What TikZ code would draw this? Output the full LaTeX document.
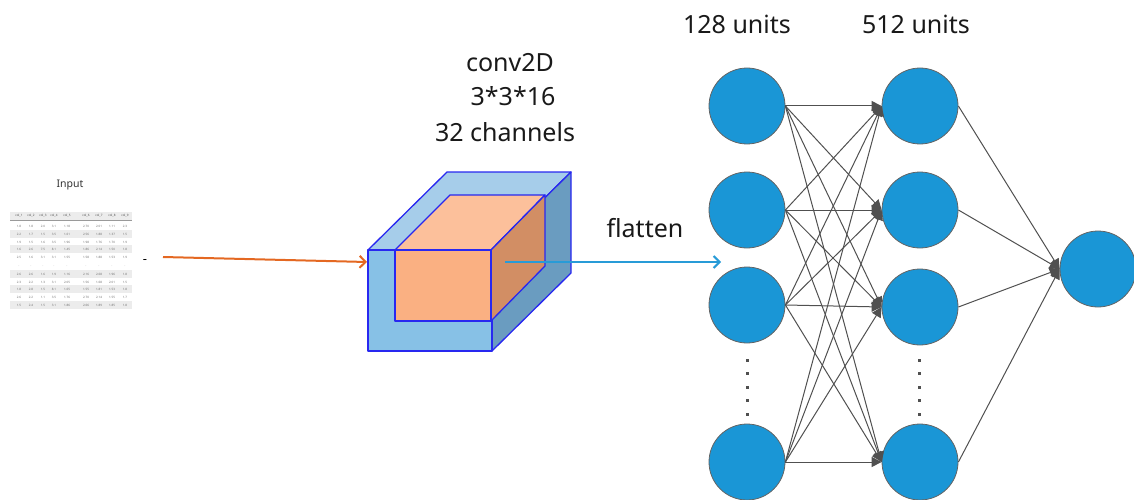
\documentclass[tikz,border=0pt]{standalone}
\usepackage{fontspec}
\setmainfont{Noto Sans}
\usetikzlibrary{arrows.meta}
\definecolor{nodeblue}{RGB}{26,150,214}
\definecolor{nodeborder}{RGB}{100,100,100}
\definecolor{edgegray}{RGB}{80,80,80}
\definecolor{cubeedge}{RGB}{40,40,240}
\definecolor{outerfront}{RGB}{135,193,230}
\definecolor{outertop}{RGB}{166,205,234}
\definecolor{outerside}{RGB}{106,156,192}
\definecolor{innerfront}{RGB}{250,176,130}
\definecolor{innertop}{RGB}{252,192,155}
\definecolor{innerside}{RGB}{210,142,100}
\definecolor{arroworange}{RGB}{228,104,34}
\definecolor{arrowblue}{RGB}{40,155,215}
\definecolor{tablegray}{RGB}{110,110,110}
\definecolor{bandgray}{RGB}{236,236,236}
\definecolor{textdark}{RGB}{25,25,25}
\begin{document}
\begin{tikzpicture}[x=1pt,y=-1pt,
  neuron/.style={circle, fill=nodeblue, draw=nodeborder, line width=0.8pt, minimum size=76pt, inner sep=0pt},
  conn/.style={draw=edgegray, line width=1pt, -{Triangle[length=10pt,width=10pt]}},
  txt/.style={font=\fontsize{25}{30}\selectfont, text=textdark, anchor=base, inner sep=0pt},
  cubeline/.style={draw=cubeedge, line width=1.3pt, line join=round},
  cell/.style={font=\fontsize{3}{3.5}\selectfont, text=tablegray, inner sep=0pt},
  flow/.style={line width=2pt, -{Straight Barb[length=6pt,width=12pt,line width=2pt]}},
  dotmark/.style={fill=edgegray}
]
\useasboundingbox (0,0) rectangle (1134,500);
\clip (0,0) rectangle (1134,500);

% ---------- input table ----------
\node[font=\fontsize{10.5}{12}\selectfont, text=black!80] (inp) at (70,185) {Input};
\fill[bandgray] (10,212) rectangle (132,220);
\draw[tablegray!70, line width=0.5pt] (10,220.5) -- (132,220.5);
\foreach \yb in {230,245,270,285,301} {\fill[bandgray] (10,\yb) rectangle (132,\yb+8);}
\foreach \c in {1,...,9} {
  \pgfmathsetmacro\cx{{19,31,43,54,67,86,99,112,125}[\c-1]}
  \node[cell, text=black!70] (h\c) at (\cx,216) {col\_\c};
}
\foreach \y/\vals in {
  226/{1.8,1.8,2.0,3.1,1.18,2.70,2.01,1.11,2.3},
  234/{2.2,1.7,1.5,3.5,1.61,2.56,1.88,1.37,1.5},
  242/{1.9,1.5,1.6,3.5,1.96,1.98,1.76,1.70,1.9},
  249/{1.6,2.6,7.5,8.1,1.45,1.86,2.14,1.50,1.8},
  257/{2.5,1.6,3.1,3.1,1.55,1.58,1.88,1.53,1.9},
  274/{2.6,2.6,1.6,1.9,1.16,2.16,2.68,1.96,1.8},
  282/{2.3,2.2,1.3,3.1,2.05,1.56,1.68,2.01,1.5},
  289/{1.8,2.8,1.5,8.1,1.65,1.55,1.81,1.53,1.8},
  297/{2.6,2.2,1.1,3.5,1.76,2.70,2.14,1.55,1.7},
  305/{1.5,2.4,1.5,3.1,1.86,2.66,1.89,1.85,1.8}} {
  \foreach \v [count=\c] in \vals {
    \pgfmathsetmacro\cx{{19,31,43,54,67,86,99,112,125}[\c-1]}
    \node[cell] (t\y-\c) at (\cx,\y) {\v};
  }
}
\foreach \c in {1,...,9} {
  \pgfmathsetmacro\cx{{19,31,43,54,67,86,99,112,125}[\c-1]}
  \node[cell] (d\c) at (\cx,266) {.};
}
\node[font=\fontsize{13}{14}\selectfont, inner sep=0pt] (dash) at (145,262) {-};

% ---------- cube ----------
\coordinate (F1) at (368,250); \coordinate (F2) at (492,250);
\coordinate (F3) at (492,351); \coordinate (F4) at (368,351);
\coordinate (B1) at (447,172); \coordinate (B2) at (571,172);
\coordinate (B3) at (571,273);
\coordinate (I1) at (395,250); \coordinate (I2) at (491,250);
\coordinate (I3) at (491,321); \coordinate (I4) at (395,321);
\coordinate (J1) at (450,195); \coordinate (J2) at (545,195);
\coordinate (J3) at (545,266);
\filldraw[cubeline, fill=outertop] (F1) -- (B1) -- (B2) -- (F2) -- cycle;
\filldraw[cubeline, fill=outerside] (F2) -- (B2) -- (B3) -- (F3) -- cycle;
\filldraw[cubeline, fill=outerfront] (F1) -- (F2) -- (F3) -- (F4) -- cycle;
\filldraw[cubeline, fill=innertop] (I1) -- (J1) -- (J2) -- (I2) -- cycle;
\filldraw[cubeline, fill=innerside] (I2) -- (J2) -- (J3) -- (I3) -- cycle;
\filldraw[cubeline, fill=innerfront] (I1) -- (I2) -- (I3) -- (I4) -- cycle;

% ---------- arrows ----------
\coordinate (ostart) at (163,257);
\coordinate (oend) at (367,262);
\draw[flow, arroworange] (ostart) -- (oend);
\coordinate (bstart) at (505,262);
\coordinate (bend) at (721,262);
\draw[flow, arrowblue] (bstart) -- (bend);

% ---------- texts ----------
\node[txt] (conv) at (510,72) {conv2D};
\node[txt] (kern) at (513,106) {3*3*16};
\node[txt] (chan) at (505,141) {32 channels};
\node[txt] (u128) at (737,34) {128 units};
\node[txt] (u512) at (916,34) {512 units};
\node[txt] (flat) at (645,237) {flatten};

% ---------- network ----------
\node[neuron] (a1) at (747,106) {};
\node[neuron] (a2) at (747,210) {};
\node[neuron] (a3) at (747,305) {};
\node[neuron] (a4) at (747,462) {};
\node[neuron] (b1) at (920,106) {};
\node[neuron] (b2) at (920,210) {};
\node[neuron] (b3) at (920,307) {};
\node[neuron] (b4) at (920,462) {};
\node[neuron] (o) at (1098,269) {};
\foreach \i in {1,...,4} {
  \foreach \j in {1,...,4} {
    \draw[conn] (a\i.east) -- (b\j.west);
  }
}
\foreach \j in {1,...,4} {
  \draw[conn] (b\j.east) -- (o.west);
}
\foreach \y in {360,373.5,387,400.5,414} {
  \fill[dotmark] (745.5,\y-1.5) rectangle ++(3,3);
  \fill[dotmark] (917.5,\y-1.5) rectangle ++(3,3);
}
\end{tikzpicture}
\end{document}
